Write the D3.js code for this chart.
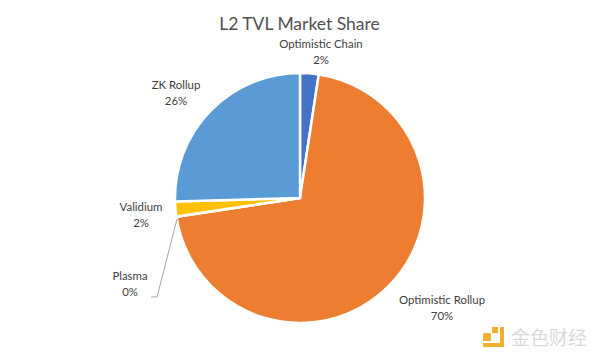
<!DOCTYPE html>
<html>
<head>
<meta charset="utf-8">
<script src="https://cdn.jsdelivr.net/npm/d3@7"></script>
<style>
  body { margin: 0; background: #fff; }
  text { font-family: Lato, "Open Sans", sans-serif; }
  .label { font-size: 11.4px; fill: #404040; text-anchor: middle; }
</style>
</head>
<body>
<div id="chart-container"></div>
<script>
const categories = ["Optimistic Chain", "Optimistic Rollup", "Plasma", "Validium", "ZK Rollup"];
const shares = [2.4, 70.2, 0.05, 1.9, 25.45];
const shareLabels = ["2%", "70%", "0%", "2%", "26%"];
const colors = ["#4472c4", "#ed7d31", "#a5a5a5", "#ffc000", "#5b9bd5"];

const width = 600;
const height = 359;
const radius = 125;

const svg = d3.select("#chart-container")
  .append("svg")
  .attr("width", width)
  .attr("height", height)
  .style("display", "block");

svg.append("text")
  .attr("x", 299.5)
  .attr("y", 30)
  .attr("text-anchor", "middle")
  .style("font-size", "17.5px")
  .style("fill", "#505050")
  .text("L2 TVL Market Share");

const pie = d3.pie().sort(null).value((d) => d);
const arc = d3.arc().innerRadius(0).outerRadius(radius);

const slices = pie(shares);

svg.append("g")
  .attr("transform", "translate(300,198)")
  .selectAll("path")
  .data(slices)
  .enter()
  .append("path")
  .attr("d", arc)
  .attr("fill", (d, i) => colors[i])
  .attr("stroke", "#fff")
  .attr("stroke-width", 2.5);

// label anchors, same order as categories
const labelAnchors = [[321, 48], [442, 304], [130, 280], [141, 211], [176, 89]];

const labels = svg.append("g")
  .selectAll("text")
  .data(categories)
  .enter()
  .append("text")
  .attr("class", "label")
  .attr("transform", (d, i) => `translate(${labelAnchors[i]})`);

labels.append("tspan").attr("x", 0).text((d) => d);
labels.append("tspan").attr("x", 0).attr("dy", 15.5).text((d, i) => shareLabels[i]);

// leader line for Plasma
svg.append("path")
  .attr("d", d3.line()([[177, 219], [157, 297], [151, 297]]))
  .attr("fill", "none")
  .attr("stroke", "#a5a5a5")
  .attr("stroke-width", 1);

// watermark
const mark = svg.append("g").attr("fill", "#f2b02e");
mark.append("rect").attr("x", 483).attr("y", 333).attr("width", 8).attr("height", 8).attr("rx", 1.5);
mark.append("rect").attr("x", 492).attr("y", 327).attr("width", 6).attr("height", 6);
mark.append("path").attr("d", "M500 327h4v20h-21v-4h17z");

svg.append("text")
  .attr("x", 511)
  .attr("y", 345)
  .style("font-family", "'Noto Sans CJK SC'")
  .style("font-size", "19px")
  .style("fill", "#d9d9d9")
  .text("金色财经");
</script>
</body>
</html>
